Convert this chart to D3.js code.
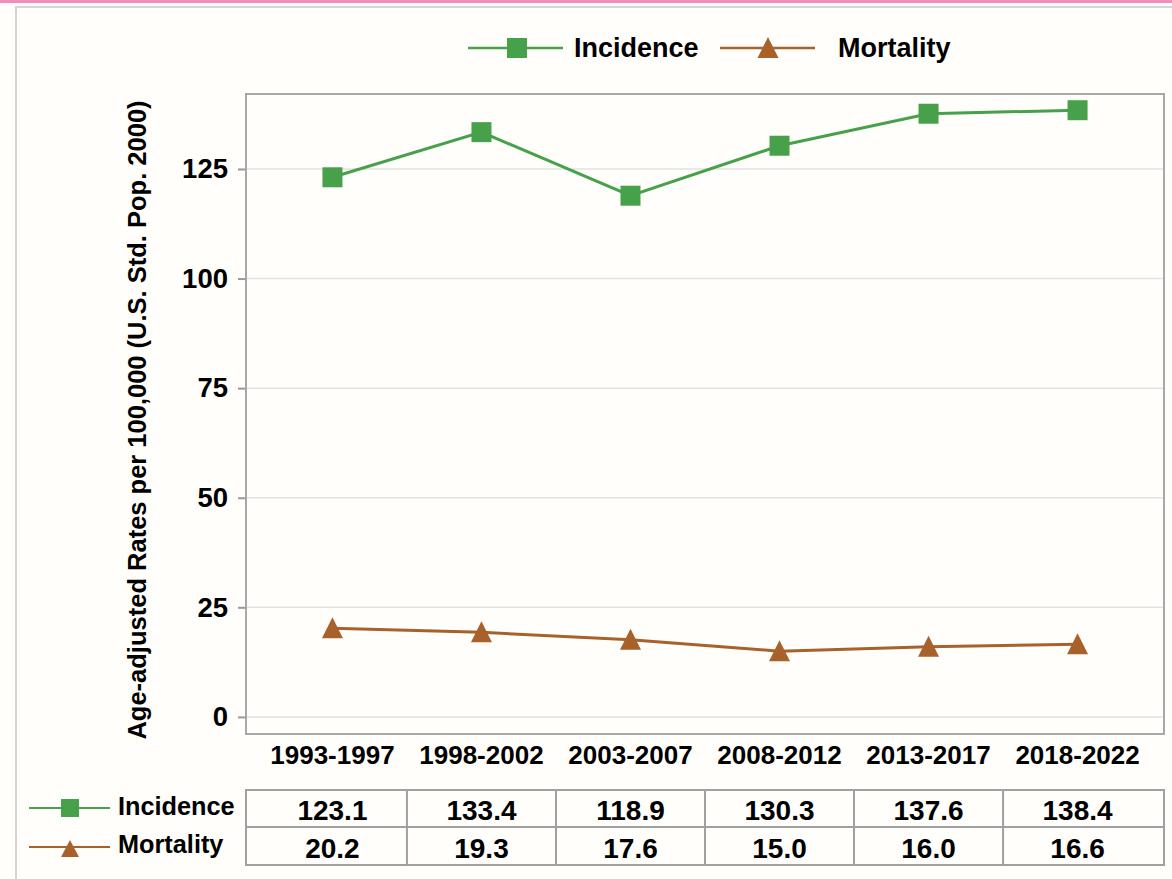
<!DOCTYPE html>
<html>
<head>
<meta charset="utf-8">
<script src="https://cdn.jsdelivr.net/npm/d3@7"></script>
<style>
  html, body { margin: 0; padding: 0; background: #fffefa; }
  svg { display: block; font-family: "Liberation Sans", Arial, sans-serif; font-weight: bold; }
</style>
</head>
<body>
<div id="chart"></div>
<script>
// periods on the x axis
const periods = ['1993-1997', '1998-2002', '2003-2007', '2008-2012', '2013-2017', '2018-2022']
// age-adjusted rates per 100,000
const incidence = [123.1, 133.4, 118.9, 130.3, 137.6, 138.4]
const mortality = [20.2, 19.3, 17.6, 15.0, 16.0, 16.6]
const yTicks = [0, 25, 50, 75, 100, 125]

const width = 1172
const height = 879

// plot frame
const plot = { left: 246, top: 94, right: 1164, bottom: 734 }

const green = '#47a04a'
const brown = '#a8612b'

const xScale = d3.scalePoint().domain(periods).range([plot.left, plot.right]).padding(0.58)
const yScale = d3.scaleLinear().domain([-3.9, 142.1]).range([plot.bottom, plot.top])

// marker paths: square of side s, triangle w wide with apex `up` above and base `down` below
function square (s) {
  const h = s / 2
  return `M${-h},${-h}H${h}V${h}H${-h}Z`
}
function triangle (w, up, down) {
  return `M0,${-up}L${w / 2},${down}L${-w / 2},${down}Z`
}

const series = [
  { name: 'Incidence', values: incidence, color: green, marker: square(20), small: square(18) },
  { name: 'Mortality', values: mortality, color: brown, marker: triangle(21, 11, 10), small: triangle(18, 7, 10) }
]

const svg = d3.select('#chart').append('svg').attr('width', width).attr('height', height)

// page decoration: pink bar and light frame
svg.append('rect').attr('x', 0).attr('y', 0).attr('width', width).attr('height', 3).attr('fill', '#f48cbc')
svg.append('rect').attr('x', 16).attr('y', 7).attr('width', width + 20).attr('height', height + 20)
  .attr('fill', 'none').attr('stroke', '#d4d4d4').attr('stroke-width', 2)

// gridlines
svg.append('g').selectAll('line').data(yTicks).enter().append('line')
  .attr('x1', plot.left).attr('x2', plot.right)
  .attr('y1', d => yScale(d)).attr('y2', d => yScale(d))
  .attr('stroke', '#e2e2e2').attr('stroke-width', 1.5)

// y axis
const yAxis = svg.append('g')
  .attr('transform', `translate(${plot.left},0)`)
  .call(d3.axisLeft(yScale).tickValues(yTicks).tickSize(8).tickPadding(10))
yAxis.select('.domain').remove()
yAxis.selectAll('line').attr('stroke', '#999').attr('stroke-width', 2)
yAxis.selectAll('text').attr('font-size', 27.5).attr('font-family', null).attr('fill', '#000')

// plot frame
svg.append('rect')
  .attr('x', plot.left).attr('y', plot.top)
  .attr('width', plot.right - plot.left).attr('height', plot.bottom - plot.top)
  .attr('fill', 'none').attr('stroke', '#a8a8a8').attr('stroke-width', 2)

// y title
svg.append('text')
  .attr('transform', `translate(146,420) rotate(-90)`)
  .attr('text-anchor', 'middle').attr('font-size', 25.5)
  .text('Age-adjusted Rates per 100,000 (U.S. Std. Pop. 2000)')

// x labels
svg.append('g').selectAll('text').data(periods).enter().append('text')
  .attr('x', d => xScale(d)).attr('y', 764)
  .attr('text-anchor', 'middle').attr('font-size', 26)
  .text(d => d)

// lines and markers
const line = d3.line().x((d, i) => xScale(periods[i])).y(d => yScale(d))
series.forEach(s => {
  svg.append('path').datum(s.values)
    .attr('d', line).attr('fill', 'none')
    .attr('stroke', s.color).attr('stroke-width', 3)
  svg.append('g').selectAll('path').data(s.values).enter().append('path')
    .attr('transform', (d, i) => `translate(${xScale(periods[i])},${yScale(d)})`)
    .attr('d', s.marker)
    .attr('fill', s.color)
})

// top legend
const legendItems = [
  { x: 468, mark: 517, textX: 574 },
  { x: 720, mark: 768, textX: 838 }
]
series.forEach((s, i) => {
  const item = legendItems[i]
  const g = svg.append('g')
  g.append('line').attr('x1', item.x).attr('x2', item.x + 95).attr('y1', 48).attr('y2', 48)
    .attr('stroke', s.color).attr('stroke-width', 2.5)
  g.append('path').attr('transform', `translate(${item.mark},48)`)
    .attr('d', s.marker)
    .attr('fill', s.color)
  g.append('text').attr('x', item.textX).attr('y', 57).attr('font-size', 27).text(s.name)
})

// data table
const rowTop = [790, 827]
const rowBottom = 865
const colEdges = [plot.left]
for (let i = 0; i < periods.length - 1; i++) {
  colEdges.push((xScale(periods[i]) + xScale(periods[i + 1])) / 2)
}
colEdges.push(plot.right)

const table = svg.append('g')
table.append('rect')
  .attr('x', plot.left).attr('y', rowTop[0])
  .attr('width', plot.right - plot.left).attr('height', rowBottom - rowTop[0])
  .attr('fill', 'none').attr('stroke', '#a0a0a0').attr('stroke-width', 2)
table.append('line').attr('x1', plot.left).attr('x2', plot.right)
  .attr('y1', rowTop[1]).attr('y2', rowTop[1]).attr('stroke', '#a0a0a0').attr('stroke-width', 2)
table.selectAll('.sep').data(colEdges.slice(1, -1)).enter().append('line')
  .attr('x1', d => d).attr('x2', d => d).attr('y1', rowTop[0]).attr('y2', rowBottom)
  .attr('stroke', '#a0a0a0').attr('stroke-width', 2)

const rowBase = [820, 858]
const rowMid = [808, 847]
series.forEach((s, r) => {
  table.append('g').selectAll('text').data(s.values).enter().append('text')
    .attr('x', (d, i) => xScale(periods[i])).attr('y', rowBase[r])
    .attr('text-anchor', 'middle').attr('font-size', 28)
    .text(d => d.toFixed(1))

  // row legend
  table.append('line').attr('x1', 29).attr('x2', 110).attr('y1', rowMid[r]).attr('y2', rowMid[r])
    .attr('stroke', s.color).attr('stroke-width', 2)
  table.append('path')
    .attr('transform', `translate(70,${rowMid[r]})`)
    .attr('d', s.small)
    .attr('fill', s.color)
  table.append('text').attr('x', 118).attr('y', rowBase[r] - 5).attr('font-size', 25.3).text(s.name)
})
</script>
</body>
</html>
